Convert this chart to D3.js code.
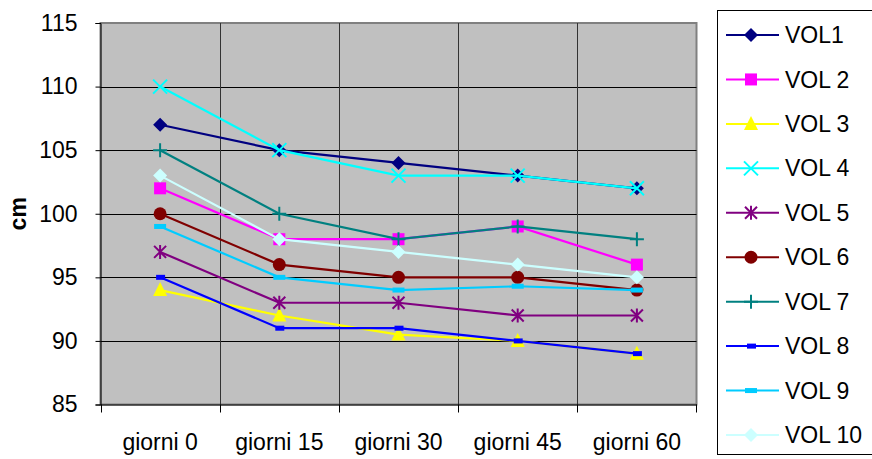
<!DOCTYPE html>
<html lang="it">
<head>
<meta charset="utf-8">
<title>VOL</title>
<script src="https://cdn.jsdelivr.net/npm/d3@7/dist/d3.min.js"></script>
<style>
  body { margin: 0; background: #fff; }
  text { font-family: "Liberation Sans", Arial, sans-serif; fill: #000; }
</style>
</head>
<body>
<svg width="872" height="459"></svg>
<script>
// dati
const categorie = ["giorni 0", "giorni 15", "giorni 30", "giorni 45", "giorni 60"];
const nomi = ["VOL1", "VOL 2", "VOL 3", "VOL 4", "VOL 5", "VOL 6", "VOL 7", "VOL 8", "VOL 9", "VOL 10"];
const vol1  = [107, 105, 104, 103, 102];
const vol2  = [102, 98, 98, 99, 96];
const vol3  = [94, 92, 90.5, 90, 89];
const vol4  = [110, 105, 103, 103, 102];
const vol5  = [97, 93, 93, 92, 92];
const vol6  = [100, 96, 95, 95, 94];
const vol7  = [105, 100, 98, 99, 98];
const vol8  = [95, 91, 91, 90, 89];
const vol9  = [99, 95, 94, 94.3, 94];
const vol10 = [103, 98, 97, 96, 95];
const yTicks = [85, 90, 95, 100, 105, 110, 115];

const valori = [vol1, vol2, vol3, vol4, vol5, vol6, vol7, vol8, vol9, vol10];
const colori = ["#000080", "#ff00ff", "#ffff00", "#00ffff", "#800080",
                "#800000", "#008080", "#0000ff", "#00ccff", "#ccffff"];
const simboli = ["diamond", "square", "triangle", "x", "star",
                 "circle", "plus", "dash", "dash2", "diamond"];

const serie = nomi.map((n, i) => ({ nome: n, valori: valori[i], colore: colori[i], simbolo: simboli[i] }));

const svg = d3.select("svg");
const pLeft = 100.5, pRight = 696.5, pTop = 23, pBottom = 404.5;
const fs = "23px";

const x = d3.scaleBand().domain(categorie).range([pLeft, pRight]);
const y = d3.scaleLinear().domain([85, 115]).range([pBottom, pTop]);

// area del grafico
svg.append("rect")
  .attr("x", pLeft).attr("y", pTop)
  .attr("width", pRight - pLeft).attr("height", pBottom - pTop)
  .attr("fill", "#c0c0c0").attr("stroke", "#808080").attr("stroke-width", 2);

// griglia
svg.append("g").selectAll("line")
  .data(yTicks.slice(1, -1))
  .join("line")
  .attr("x1", pLeft).attr("x2", pRight)
  .attr("y1", d => Math.round(y(d)) + 0.5).attr("y2", d => Math.round(y(d)) + 0.5)
  .attr("stroke", "#000").attr("stroke-width", 1);

svg.append("g").selectAll("line")
  .data(categorie.slice(1))
  .join("line")
  .attr("x1", d => Math.round(x(d)) + 0.5).attr("x2", d => Math.round(x(d)) + 0.5)
  .attr("y1", pTop).attr("y2", pBottom)
  .attr("stroke", "#333").attr("stroke-width", 1);

// assi
const assey = svg.append("g")
  .attr("transform", `translate(${pLeft},0)`)
  .call(d3.axisLeft(y).tickValues(yTicks).tickSize(5).tickPadding(18));
assey.selectAll("text").style("font-size", fs);
assey.select(".domain").attr("stroke", "#000");

const assex = svg.append("g")
  .attr("transform", `translate(0,${pBottom})`)
  .call(d3.axisBottom(x).tickSize(0).tickPadding(29));
assex.selectAll("text").style("font-size", fs);
assex.select(".domain").attr("stroke", "#000");
assex.selectAll(".tick line").remove();
// tacche sui confini delle categorie
svg.append("g").selectAll("line")
  .data(categorie.concat(["fine"]))
  .join("line")
  .attr("x1", (d, i) => i < categorie.length ? Math.round(x(d)) + 0.5 : pRight)
  .attr("x2", (d, i) => i < categorie.length ? Math.round(x(d)) + 0.5 : pRight)
  .attr("y1", pBottom).attr("y2", pBottom + 8)
  .attr("stroke", "#000");

svg.append("text")
  .attr("transform", `translate(26,${(pTop + pBottom) / 2}) rotate(-90)`)
  .attr("text-anchor", "middle")
  .style("font-size", fs).style("font-weight", "bold")
  .text("cm");

// simboli
function marcatore(g, tipo, colore) {
  if (tipo === "diamond") g.append("path").attr("d", "M0,-7L7,0L0,7L-7,0Z").attr("fill", colore);
  else if (tipo === "square") g.append("rect").attr("x", -6).attr("y", -6).attr("width", 12).attr("height", 12).attr("fill", colore);
  else if (tipo === "triangle") g.append("path").attr("d", "M0,-8L7,6L-7,6Z").attr("fill", colore);
  else if (tipo === "circle") g.append("circle").attr("r", 6.5).attr("fill", colore);
  else if (tipo === "x") g.append("path").attr("d", "M-7,-7L7,7M7,-7L-7,7").attr("stroke", colore).attr("stroke-width", 2);
  else if (tipo === "plus") g.append("path").attr("d", "M-7,0L7,0M0,-7L0,7").attr("stroke", colore).attr("stroke-width", 2);
  else if (tipo === "star") g.append("path").attr("d", "M-6,-6L6,6M6,-6L-6,6M0,-7L0,7").attr("stroke", colore).attr("stroke-width", 2);
  else if (tipo === "dash") g.append("rect").attr("x", -4).attr("y", -2.5).attr("width", 9).attr("height", 5).attr("fill", colore);
  else if (tipo === "dash2") g.append("rect").attr("x", -6).attr("y", -2.5).attr("width", 12).attr("height", 5).attr("fill", colore);
}

const cx = d => x(d) + x.bandwidth() / 2;
const linea = d3.line().x((v, i) => cx(categorie[i])).y(v => y(v));

const gSerie = svg.append("g").selectAll("g")
  .data(serie)
  .join("g");

gSerie.append("path")
  .attr("d", d => linea(d.valori))
  .attr("fill", "none")
  .attr("stroke", d => d.colore)
  .attr("stroke-width", 2.2);

gSerie.each(function (d) {
  const g = d3.select(this);
  d.valori.forEach((v, i) => {
    marcatore(g.append("g").attr("transform", `translate(${cx(categorie[i])},${y(v)})`), d.simbolo, d.colore);
  });
});

// legenda
const leg = svg.append("g");
leg.append("rect")
  .attr("x", 717.5).attr("y", 10.5).attr("width", 160).attr("height", 444)
  .attr("fill", "#fff").attr("stroke", "#000");

const yLeg = d3.scalePoint().domain(nomi).range([35, 435]);
const voci = leg.selectAll("g.voce")
  .data(serie)
  .join("g")
  .attr("class", "voce")
  .attr("transform", d => `translate(0,${yLeg(d.nome)})`);
voci.append("line")
  .attr("x1", 726).attr("x2", 779)
  .attr("stroke", d => d.colore).attr("stroke-width", 2);
voci.each(function (d) {
  marcatore(d3.select(this).append("g").attr("transform", "translate(751,0)"), d.simbolo, d.colore);
});
voci.append("text")
  .attr("x", 785).attr("dy", "0.35em")
  .style("font-size", fs)
  .text(d => d.nome);
</script>
</body>
</html>
